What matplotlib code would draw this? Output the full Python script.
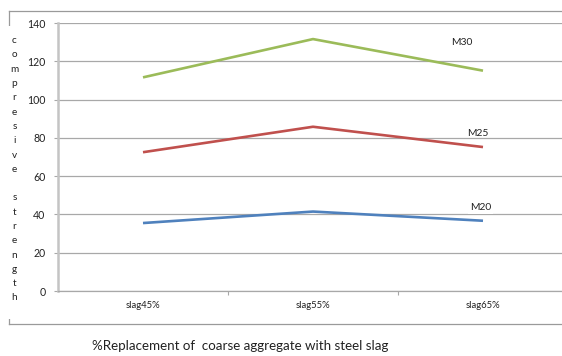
import matplotlib
matplotlib.use("Agg")
from matplotlib import pyplot as plt
from matplotlib.lines import Line2D
from matplotlib.patches import Rectangle
import numpy as np

plt.rcParams["font.family"] = ["Lato", "DejaVu Sans"]

categories = ["slag45%", "slag55%", "slag65%"]
m20 = [35.5, 41.5, 36.7]
m25 = [72.5, 85.8, 75.2]
m30 = [111.6, 131.6, 115.1]
yticks = [0, 20, 40, 60, 80, 100, 120, 140]

series = [
    ("M30", m30, "#9bbb59", (1.875, 129.7), False),
    ("M25", m25, "#c0504d", (1.972, 82.4), False),
    ("M20", m20, "#4f81bd", (1.986, 43.7), True),
]

W, H = 562, 356
fig = plt.figure(figsize=(W / 100, H / 100), dpi=100)
fig.patch.set_linewidth(0)


def px(x, y):
    return x / W, 1 - y / H


# outer chart border: top, left and bottom edges only
border = [((9, 11), (W, 11)), ((9, 11), (9, 324)), ((9, 324), (W, 324))]
for (x0, y0), (x1, y1) in border:
    (fx0, fy0), (fx1, fy1) = px(x0, y0), px(x1, y1)
    fig.add_artist(Line2D([fx0, fx1], [fy0, fy1], transform=fig.transFigure,
                          color="#9a9a9a", linewidth=0.9, zorder=0))

# plot area runs to the right edge; one category spans 170 px
left_px, right_px, cat_px = 58, W, 170
ax = fig.add_axes([left_px / W, 1 - 291 / H, (right_px - left_px) / W, 268 / H])
ax.set_facecolor("none")
x = np.arange(len(categories))

for name, vals, color, (lx, ly), boxed in series:
    ax.plot(x, vals, color=color, linewidth=1.9, solid_capstyle="butt", zorder=3)
    kw = {}
    if boxed:
        kw["bbox"] = dict(facecolor="white", edgecolor="none", pad=1.5)
    ax.text(lx, ly, name, ha="center", va="center", fontsize=7.4,
            color="#222222", zorder=4, **kw)

ax.set_xlim(-0.5, -0.5 + (right_px - left_px) / cat_px)
ax.set_ylim(0, 140)
ax.set_yticks(yticks)
ax.set_xticks(x)
ax.set_xticklabels(categories)
ax.set_xticks([0.5, 1.5], minor=True)
ax.grid(axis="y", color="#a8a8a8", linewidth=0.9, zorder=1)
ax.set_axisbelow(True)

for side in ("top", "right"):
    ax.spines[side].set_visible(False)
ax.spines["left"].set_color("#c4c4c4")
ax.spines["left"].set_linewidth(1.8)
ax.spines["bottom"].set_color("#a8a8a8")
ax.spines["bottom"].set_linewidth(0.9)

ax.tick_params(axis="y", length=3, width=0.8, color="#a8a8a8", pad=6,
               labelsize=7.6, labelcolor="#222222", right=False)
ax.tick_params(axis="x", which="major", length=0, pad=7,
               labelsize=6.8, labelcolor="#222222", top=False)
ax.tick_params(axis="x", which="minor", length=3, width=0.8, color="#a8a8a8")

# stacked-letter axis title on a white strip
label = "compresive strength"
fig.patches.append(Rectangle(px(5, 319), 12 / W, (319 - 26) / H,
                             transform=fig.transFigure, facecolor="white",
                             edgecolor="none", zorder=1))
step = (298 - 40.7) / (len(label) - 1)
for i, ch in enumerate(label):
    if ch == " ":
        continue
    fig.text(*px(14.5, 40.7 + i * step), ch, ha="center",
             va="center", fontsize=7.2, color="#222222", zorder=2)

fig.text(*px(92, 346), "%Replacement of  coarse aggregate with steel slag",
         ha="left", va="center", fontsize=9.6, color="#222222")

fig.savefig("out.png", dpi=100, facecolor="white")
